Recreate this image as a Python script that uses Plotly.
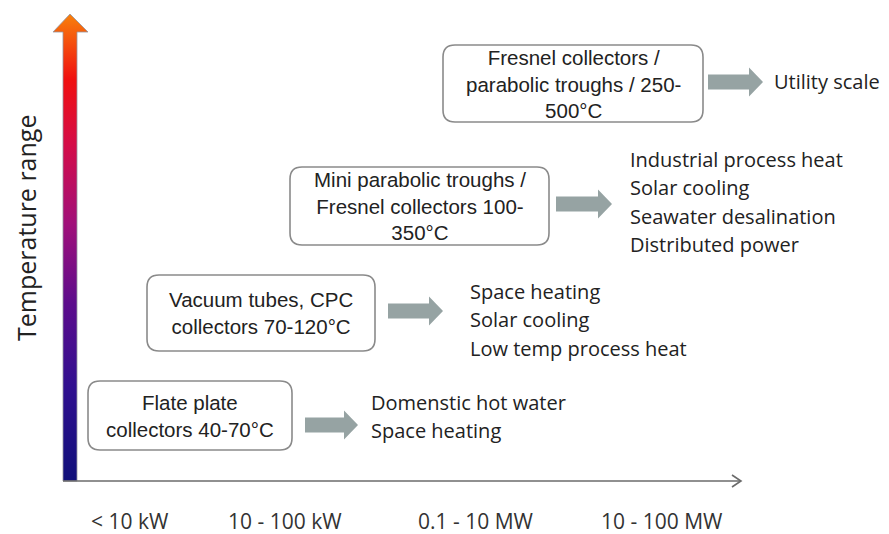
import plotly.graph_objects as go

# ---- data ----
SCALES = ["< 10 kW", "10 - 100 kW", "0.1 - 10 MW", "10 - 100 MW"]
COLLECTORS = [
    "Flate plate<br>collectors 40-70°C",
    "Vacuum tubes, CPC<br>collectors 70-120°C",
    "Mini parabolic troughs /<br>Fresnel collectors 100-<br>350°C",
    "Fresnel collectors /<br>parabolic troughs / 250-<br>500°C",
]
APPLICATIONS = [
    ["Domenstic hot water", "Space heating"],
    ["Space heating", "Solar cooling", "Low temp process heat"],
    ["Industrial process heat", "Solar cooling", "Seawater desalination", "Distributed power"],
    ["Utility scale"],
]
Y_TITLE = "Temperature range"

# ---- layout (page pixel space; the page body has an 8px margin) ----
SCALE_X = [130, 285, 476, 662]
BOXES = [  # x0, x1, y0, y1
    (88, 292, 381, 450),
    (147, 375, 275, 351),
    (290, 549, 167, 245),
    (443, 703, 45, 122),
]
ARROWS = [(305, 358, 425), (388, 443, 311), (556, 612, 204), (708, 763, 82)]
APP_X = [369, 468, 628, 772]
APP_TOP = [402, 291, 159, 81]
APP_STEP = 28.5

SANS = "Open Sans, Lato"
BOX_FONT = dict(family="Liberation Sans, Arial", size=20.5, color="#222")
APP_FONT = dict(family=SANS, size=20, color="#222")


def rounded_rect(x0, x1, y0, y1, r=12):
    return (f"M {x0 + r},{y0} L {x1 - r},{y0} Q {x1},{y0} {x1},{y0 + r} "
            f"L {x1},{y1 - r} Q {x1},{y1} {x1 - r},{y1} L {x0 + r},{y1} "
            f"Q {x0},{y1} {x0},{y1 - r} L {x0},{y0 + r} Q {x0},{y0} {x0 + r},{y0} Z")


def block_arrow(x0, x1, yc, shaft=7.5, head=14.5, head_len=14):
    xh = x1 - head_len
    return (f"M {x0},{yc - shaft} L {xh},{yc - shaft} L {xh},{yc - head} L {x1},{yc} "
            f"L {xh},{yc + head} L {xh},{yc + shaft} L {x0},{yc + shaft} Z")


fig = go.Figure()

# gradient temperature arrow
ax0, ax1, ybot, yhead, ytip = 63, 77, 481, 32, 14
fig.add_trace(go.Scatter(
    x=[ax0, ax1, ax1, 88, 70, 53, ax0, ax0],
    y=[ybot, ybot, yhead, yhead, ytip, yhead, yhead, ybot],
    mode="lines", fill="toself",
    line=dict(color="rgba(150,150,160,0.8)", width=1),
    fillgradient=dict(
        type="vertical", start=ybot, stop=ytip,
        colorscale=[
            [0.0, "#10107a"], [0.2, "#301090"], [0.38, "#5c0c8c"],
            [0.55, "#a0107a"], [0.72, "#d40c48"], [0.86, "#f01010"],
            [1.0, "#f8800c"],
        ],
    ),
    hoverinfo="skip", showlegend=False,
))

shapes = []
# horizontal axis
shapes.append(dict(type="line", x0=ax0, x1=741, y0=481, y1=481,
                   line=dict(color="#6b6b6b", width=1.6)))
shapes.append(dict(type="path", path="M 732,475 L 741,481 L 732,487",
                   line=dict(color="#6b6b6b", width=1.6)))

for (bx0, bx1, by0, by1), (a0, a1, ay) in zip(BOXES, ARROWS):
    shapes.append(dict(type="path", path=rounded_rect(bx0, bx1, by0, by1),
                       line=dict(color="#8a8a8a", width=1.6), fillcolor="white"))
    shapes.append(dict(type="path", path=block_arrow(a0, a1, ay),
                       line=dict(width=0), fillcolor="#96a3a3"))

annotations = []
for label, (bx0, bx1, by0, by1) in zip(COLLECTORS, BOXES):
    annotations.append(dict(x=(bx0 + bx1) / 2, y=(by0 + by1) / 2, text=label,
                            showarrow=False, font=BOX_FONT, align="center"))

for items, x, top in zip(APPLICATIONS, APP_X, APP_TOP):
    for i, item in enumerate(items):
        annotations.append(dict(x=x, y=top + i * APP_STEP, text=item, xanchor="left",
                                showarrow=False, font=APP_FONT))

annotations.append(dict(x=26, y=228, text=Y_TITLE, textangle=-90, showarrow=False,
                        font=dict(family=SANS, size=25, color="#222")))

for label, x in zip(SCALES, SCALE_X):
    annotations.append(dict(x=x, y=521, text=label, showarrow=False,
                            font=dict(family=SANS, size=21, color="#333")))

fig.update_layout(
    width=881, height=526,
    margin=dict(l=0, r=0, t=0, b=0),
    paper_bgcolor="white", plot_bgcolor="white",
    xaxis=dict(range=[8, 889], visible=False, fixedrange=True),
    yaxis=dict(range=[534, 8], visible=False, fixedrange=True),
    shapes=shapes,
    annotations=annotations,
)

fig.write_html("out.html")
